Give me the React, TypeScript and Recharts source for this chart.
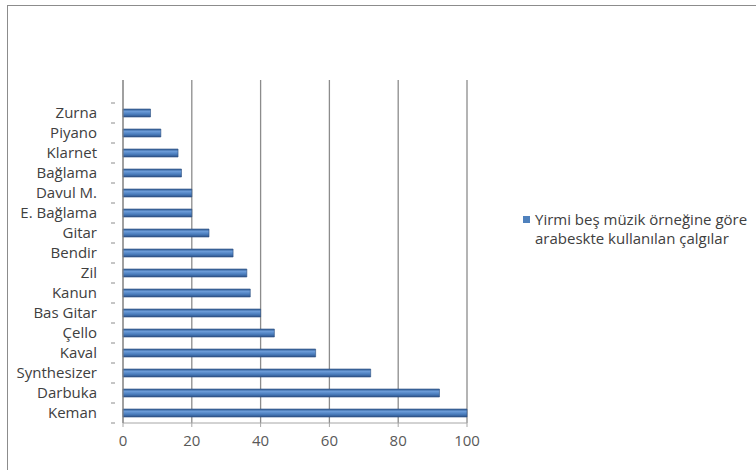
import { Bar, BarChart, CartesianGrid, Legend, XAxis, YAxis } from "recharts";

const CATEGORIES = [
  "Zurna",
  "Piyano",
  "Klarnet",
  "Bağlama",
  "Davul M.",
  "E. Bağlama",
  "Gitar",
  "Bendir",
  "Zil",
  "Kanun",
  "Bas Gitar",
  "Çello",
  "Kaval",
  "Synthesizer",
  "Darbuka",
  "Keman",
];
const VALUES = [8, 11, 16, 17, 20, 20, 25, 32, 36, 37, 40, 44, 56, 72, 92, 100];
const X_TICKS = [0, 20, 40, 60, 80, 100];
const SERIES_NAME = "Yirmi beş müzik örneğine göre arabeskte kullanılan çalgılar";

const data = CATEGORIES.map((name, i) => ({ name, value: VALUES[i] }));

const FONT = "'Open Sans', sans-serif";
const FONT_SIZE = 15;
const BAND_HALF = 10;

function CategoryTick(props: any) {
  const { x, y, payload, index } = props;
  return (
    <g>
      <text x={x - 18} y={y} dy="0.35em" textAnchor="end" fontFamily={FONT} fontSize={FONT_SIZE} fill="#404040">
        {payload.value}
      </text>
      <line x1={x - 4} x2={x} y1={y + BAND_HALF} y2={y + BAND_HALF} stroke="#8c8c8c" />
      {index === 0 ? <line x1={x - 4} x2={x} y1={y - BAND_HALF} y2={y - BAND_HALF} stroke="#8c8c8c" /> : null}
    </g>
  );
}

function LegendBox() {
  return (
    <div style={{ display: "flex", alignItems: "flex-start", fontFamily: FONT, fontSize: FONT_SIZE, color: "#404040", lineHeight: "19px" }}>
      <span style={{ width: 7, height: 7, background: "#4f81bd", marginTop: 6, marginRight: 5, flex: "none" }} />
      <span style={{ width: 222 }}>{SERIES_NAME}</span>
    </div>
  );
}

export default function App() {
  return (
    <div style={{ position: "absolute", left: 0, top: 0, width: 756, height: 470, overflow: "hidden", background: "#fff" }}>
      <div style={{ position: "absolute", left: 7, top: 5, width: 800, height: 500, border: "1.5px solid #8c8c8c" }} />
      <div style={{ position: "absolute", left: 0, top: 0 }}>
        <BarChart width={756} height={470} data={data} layout="vertical" margin={{ top: 80, right: 289, bottom: 17, left: 23 }}>
          <defs>
            <linearGradient id="barFill" x1="0" y1="0" x2="0" y2="1">
              <stop offset="0%" stopColor="#2f5b92" />
              <stop offset="30%" stopColor="#6b9bd8" />
              <stop offset="65%" stopColor="#4a7dbd" />
              <stop offset="100%" stopColor="#2d5288" />
            </linearGradient>
          </defs>
          <CartesianGrid horizontal={false} stroke="#8c8c8c" strokeWidth={1.3} />
          <XAxis
            type="number"
            domain={[0, 100]}
            ticks={X_TICKS}
            height={30}
            tickSize={4}
            tickMargin={8}
            axisLine={{ stroke: "#a6a6a6" }}
            tickLine={{ stroke: "#a6a6a6" }}
            tick={{ fontFamily: FONT, fontSize: FONT_SIZE, fill: "#595959" }}
          />
          <YAxis
            type="category"
            dataKey="name"
            width={100}
            padding={{ top: 23, bottom: 0 }}
            axisLine={{ stroke: "#8c8c8c" }}
            tickLine={false}
            tick={<CategoryTick />}
            interval={0}
          />
          <Legend
            layout="horizontal"
            verticalAlign="middle"
            align="center"
            content={<LegendBox />}
            wrapperStyle={{ position: "absolute", left: 523, top: 210, width: 240 }}
          />
          <Bar dataKey="value" name={SERIES_NAME} fill="url(#barFill)" stroke="#2b4f80" strokeWidth={0.6} barSize={8} isAnimationActive={false} />
        </BarChart>
      </div>
    </div>
  );
}
